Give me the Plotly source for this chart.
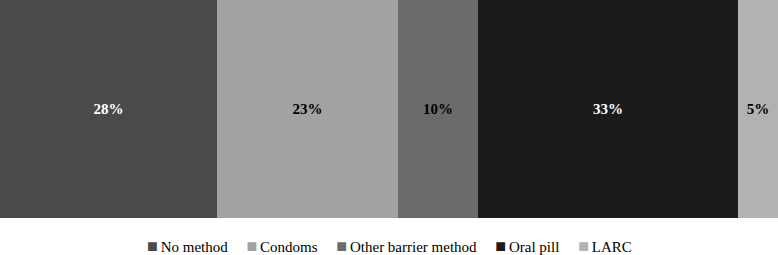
import plotly.graph_objects as go

categories = ["No method", "Condoms", "Other barrier method", "Oral pill", "LARC"]
values = [27.9, 23.3, 10.3, 33.3, 5.2]
labels = ["28%", "23%", "10%", "33%", "5%"]
colors = ["#4a4a4a", "#a2a2a2", "#6b6b6b", "#1b1b1b", "#b2b2b2"]
text_colors = ["white", "black", "black", "white", "black"]

fig = go.Figure()
for cat, v, lab, c, tc in zip(categories, values, labels, colors, text_colors):
    fig.add_trace(go.Bar(
        y=["all"], x=[v], name=cat, orientation="h",
        marker=dict(color=c, line=dict(width=0)),
        text=[lab], textposition="inside", insidetextanchor="middle",
        textangle=0, hoverinfo="skip", showlegend=False,
        textfont=dict(family="Liberation Serif", size=15, color=tc, weight="bold"),
    ))

# legend as a single centred text line: colour square + category name
gap = "&nbsp;" * 5
legend_text = gap.join(
    f"<span style='color:{c};font-size:18px'>■</span><span style='font-size:11px'>&nbsp;</span>{cat}"
    for cat, c in zip(categories, colors)
)
fig.add_annotation(
    text=legend_text, xref="paper", yref="paper", x=0.5, y=-0.128,
    xanchor="center", yanchor="middle", showarrow=False,
    font=dict(family="Liberation Serif", size=15, color="black"),
)

fig.update_layout(
    width=778, height=255,
    barmode="stack", bargap=0,
    margin=dict(l=0, r=0, t=0, b=37),
    paper_bgcolor="white", plot_bgcolor="white",
    xaxis=dict(visible=False, range=[0, sum(values)], fixedrange=True),
    yaxis=dict(visible=False, fixedrange=True),
    showlegend=False,
    font=dict(family="Liberation Serif"),
)

fig.write_html("out.html", config={"displayModeBar": False},
               post_script="document.body.style.margin='0';document.body.style.padding='0';")
